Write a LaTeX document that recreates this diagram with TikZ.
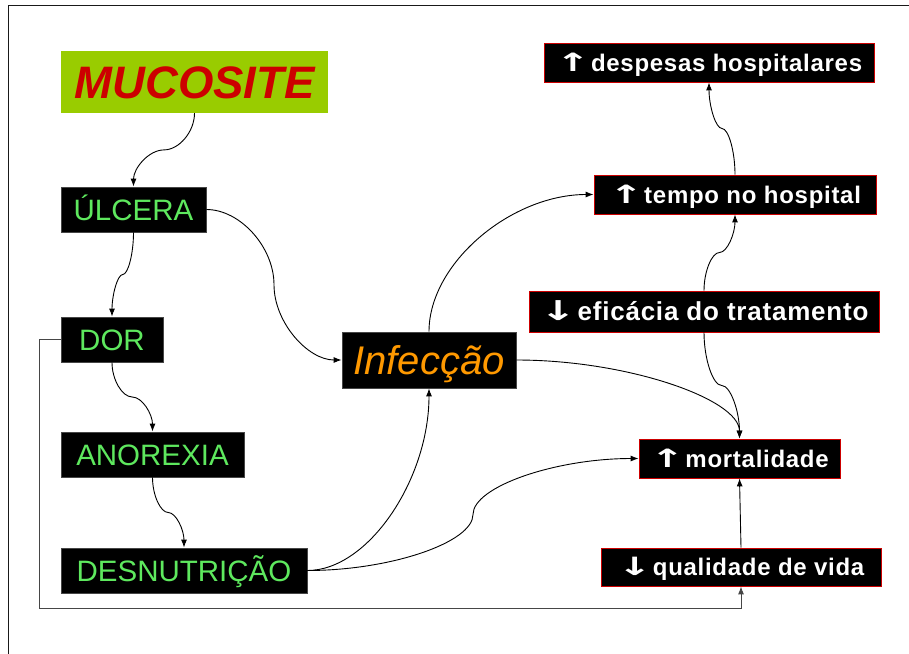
\documentclass[tikz,border=0pt]{standalone}
\usepackage{fontspec}
\setmainfont{Liberation Sans}
\newfontfamily\boxfont[LetterSpace=3]{Liberation Sans}
\newfontfamily\arrowfont{DejaVu Sans}
\usetikzlibrary{arrows.meta,calc}
\definecolor{mucgreen}{RGB}{153,204,0}
\definecolor{mucred}{RGB}{204,0,0}
\definecolor{boxred}{RGB}{204,0,0}
\definecolor{lightgreen}{RGB}{94,232,94}
\definecolor{infyellow}{RGB}{255,153,0}
\definecolor{edgegray}{RGB}{70,70,70}
\definecolor{framegray}{RGB}{25,25,25}
\newcommand{\up}{\scalebox{1.7}[1.05]{\arrowfont\bfseries↑}\hspace{1pt}}
\newcommand{\down}{\scalebox{1.7}[1.05]{\arrowfont\bfseries↓}\hspace{1pt}}
\tikzstyle{mucbox}=[rectangle,fill=mucgreen,text=mucred,inner sep=0pt,
                    font=\bfseries\itshape\fontsize{45.5}{48}\selectfont,
                    text height=32.5pt,text depth=0pt]
\tikzstyle{greenbox}=[rectangle,draw=edgegray,fill=black,text=lightgreen,
                      line width=0.8pt,inner sep=0pt,minimum height=45pt,
                      font=\fontsize{29.5}{32}\selectfont,
                      text height=21.1pt,text depth=0pt]
\tikzstyle{infbox}=[greenbox,text=infyellow,minimum height=56pt,
                    font=\itshape\fontsize{40}{42}\selectfont,
                    text height=28.6pt]
\tikzstyle{redbox}=[rectangle,draw=boxred,fill=black,text=white,
                    line width=0.8pt,inner sep=0pt,minimum height=39pt,
                    font=\boxfont\bfseries\fontsize{24}{26}\selectfont,
                    text height=17.2pt,text depth=0pt]
\tikzstyle{arr}=[-{Latex[length=8pt,width=6pt]},line width=0.9pt]
\tikzstyle{vcurve}=[to path={let \p1=(\tikztostart),\p2=(\tikztotarget) in
    .. controls (\x1,{(3*\y1+\y2)/4}) and ({(3*\x1+\x2)/4},{(\y1+\y2)/2})
    .. ({(\x1+\x2)/2},{(\y1+\y2)/2})
    .. controls ({(\x1+3*\x2)/4},{(\y1+\y2)/2}) and (\x2,{(\y1+3*\y2)/4})
    .. (\tikztotarget)}]
\tikzstyle{hcurve}=[to path={let \p1=(\tikztostart),\p2=(\tikztotarget) in
    .. controls ({(3*\x1+\x2)/4},\y1) and ({(\x1+\x2)/2},{(3*\y1+\y2)/4})
    .. ({(\x1+\x2)/2},{(\y1+\y2)/2})
    .. controls ({(\x1+\x2)/2},{(\y1+3*\y2)/4}) and ({(\x1+3*\x2)/4},\y2)
    .. (\tikztotarget)}]
\tikzstyle{hvbend}=[to path={let \p1=(\tikztostart),\p2=(\tikztotarget) in
    .. controls ({(\x1+\x2)/2},\y1) and (\x2,{(\y1+\y2)/2}) .. (\tikztotarget)}]
\tikzstyle{vhbend}=[to path={let \p1=(\tikztostart),\p2=(\tikztotarget) in
    .. controls (\x1,{(\y1+\y2)/2}) and ({(\x1+\x2)/2},\y2) .. (\tikztotarget)}]

\begin{document}
\begin{tikzpicture}[x=1pt,y=1pt]
    \useasboundingbox (0,0) rectangle (909,-653);
    \clip (0,0) rectangle (909,-653);
    \draw[framegray,line width=1.6pt] (8.5,-5.5) rectangle (930,-680);

    \node (muc)   at (194.5,-82)   [mucbox,minimum width=267pt,minimum height=62pt]{MUCOSITE};
    \node (ulc)   at (133.5,-209.5) [greenbox,minimum width=145pt]{ÚLCERA};
    \node (dor)   at (112,-339.5)   [greenbox,minimum width=102pt]{DOR};
    \node (ano)   at (152.5,-454.5) [greenbox,minimum width=183pt]{ANOREXIA};
    \node (des)   at (184,-570.5)   [greenbox,minimum width=246pt]{DESNUTRIÇÃO};
    \node (inf)   at (429,-360)     [infbox,minimum width=174pt]{Infecção};
    \node (desp)  at (709,-62.5)    [redbox,minimum width=330pt]{\up despesas hospitalares};
    \node (tempo) at (735,-194.5)   [redbox,minimum width=282pt]{\up tempo no hospital};
    \node (efic)  at (704,-311.5)   [redbox,minimum width=350pt,minimum height=41pt,
                                     font=\boxfont\bfseries\fontsize{26}{28}\selectfont,
                                     text height=18.6pt]{\down eficácia do tratamento};
    \node (mort)  at (739.5,-458.5) [redbox,minimum width=201pt]{\up mortalidade};
    \node (qual)  at (741,-567)     [redbox,minimum width=280pt,minimum height=38pt]{\down qualidade de vida};
    \coordinate (loop) at (39,-608);

    \draw[arr,vcurve] (muc.south) to (ulc.north);
    \draw[arr,vcurve] (ulc.south) to (dor.north);
    \draw[arr,vcurve] (dor.south) to (ano.north);
    \draw[arr,vcurve] (ano.south) to (des.north);
    \draw[arr,hcurve] (ulc.east) to (inf.west);
    \draw[arr,hvbend] (des.east) to (inf.south);
    \draw[arr,hcurve] (des.east) to (mort.west);
    \draw[arr,vhbend] (inf.north) to (tempo.west);
    \draw[arr,hvbend] (inf.east) to (mort.north);
    \draw[arr,vcurve] (efic.south) to (mort.north);
    \draw[arr,vcurve] (efic.north) to (tempo.south);
    \draw[arr,vcurve] (tempo.north) to (desp.south);
    \draw[arr] (qual.north) -- (mort.south);
    \draw[arr,edgegray] (dor.west) -| (loop) -| (qual.south);
\end{tikzpicture}
\end{document}
